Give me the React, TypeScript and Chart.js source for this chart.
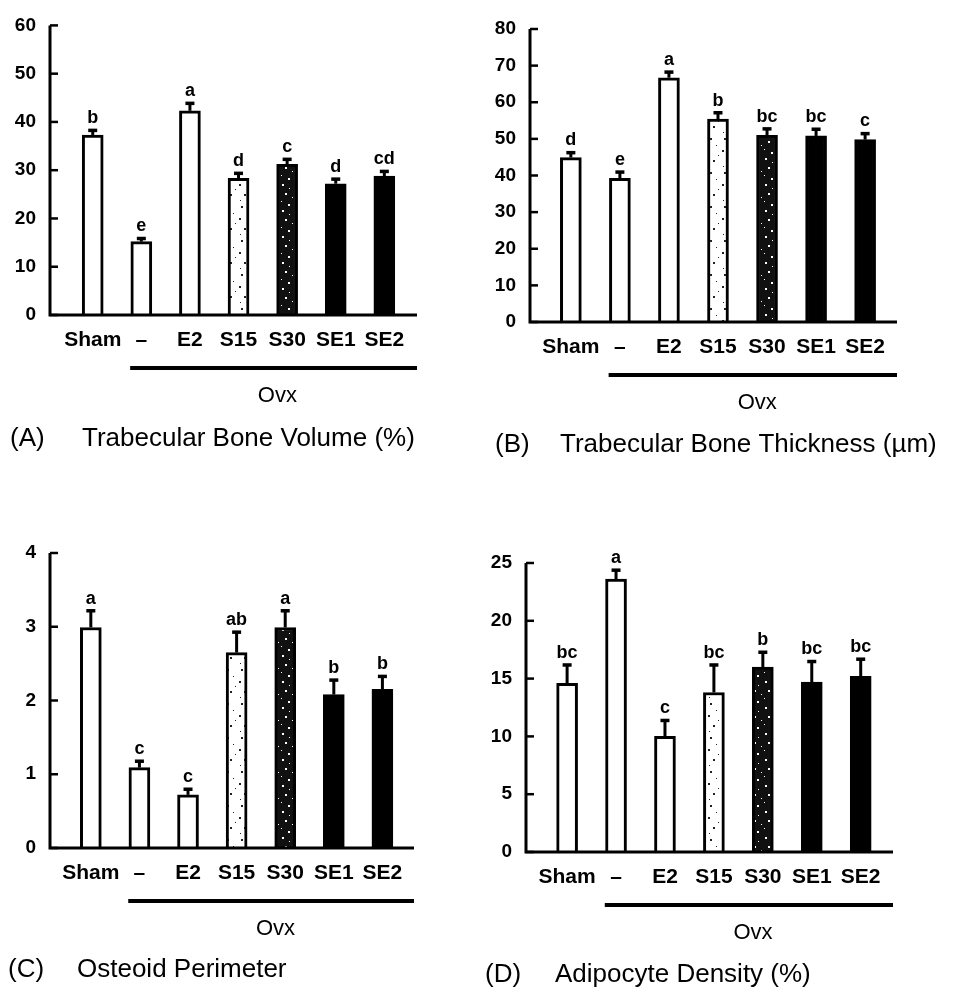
import React, { useEffect, useRef } from "react";
import { Chart, registerables } from "chart.js";

Chart.register(...registerables);

const FONT = "'Liberation Sans', Arial, Helvetica, sans-serif";

const groups = ["Sham", "–", "E2", "S15", "S30", "SE1", "SE2"];
const ovxLabel = "Ovx";

const volumeMeans = [37.3, 15.2, 42.3, 28.3, 31.2, 27.2, 28.8];
const volumeErrors = [1.0, 0.7, 1.6, 1.1, 1.1, 1.0, 1.0];
const volumeLetters = ["b", "e", "a", "d", "c", "d", "cd"];
const volumeAxis = [0, 60, 10];

const thicknessMeans = [44.9, 39.2, 66.7, 55.4, 51.0, 50.8, 49.8];
const thicknessErrors = [1.4, 1.8, 1.6, 1.8, 1.8, 1.9, 1.7];
const thicknessLetters = ["d", "e", "a", "b", "bc", "bc", "c"];
const thicknessAxis = [0, 80, 10];

const osteoidMeans = [2.99, 1.09, 0.72, 2.65, 2.99, 2.08, 2.15];
const osteoidErrors = [0.23, 0.09, 0.08, 0.28, 0.23, 0.2, 0.18];
const osteoidLetters = ["a", "c", "c", "ab", "a", "b", "b"];
const osteoidAxis = [0, 4, 1];

const adipocyteMeans = [14.6, 23.6, 10.0, 13.8, 16.0, 14.7, 15.2];
const adipocyteErrors = [1.6, 0.8, 1.4, 2.4, 1.3, 1.8, 1.5];
const adipocyteLetters = ["bc", "a", "c", "bc", "b", "bc", "bc"];
const adipocyteAxis = [0, 25, 5];

const captionTags = ["(A)", "(B)", "(C)", "(D)"];
const captionTitles = [
  "Trabecular Bone Volume (%)",
  "Trabecular Bone Thickness (µm)",
  "Osteoid Perimeter",
  "Adipocyte Density (%)",
];

// layout of each panel (positions only)
const panels = [
  { means: volumeMeans, errors: volumeErrors, letters: volumeLetters, axis: volumeAxis,
    left: 0, top: 0, padTop: 25, padRight: 66, yWidth: 50, xHeight: 182, xMin: -0.879, xMax: 6.672,
    tagX: 10, titleX: 82, capDy: 124 },
  { means: thicknessMeans, errors: thicknessErrors, letters: thicknessLetters, axis: thicknessAxis,
    left: 483, top: 0, padTop: 29, padRight: 69, yWidth: 47, xHeight: 175, xMin: -0.833, xMax: 6.65,
    tagX: 12, titleX: 77, capDy: 123 },
  { means: osteoidMeans, errors: osteoidErrors, letters: osteoidLetters, axis: osteoidAxis,
    left: 0, top: 497, padTop: 56, padRight: 69, yWidth: 50, xHeight: 146, xMin: -0.84, xMax: 6.65,
    tagX: 8, titleX: 77, capDy: 122 },
  { means: adipocyteMeans, errors: adipocyteErrors, letters: adipocyteLetters, axis: adipocyteAxis,
    left: 483, top: 497, padTop: 66, padRight: 73, yWidth: 43, xHeight: 142, xMin: -0.84, xMax: 6.66,
    tagX: 2, titleX: 72, capDy: 123 },
];

const CW = 483;
const CH = 497;

function makePattern(bg: string, dot: string, dots: number[][], w: number, h: number) {
  const c = document.createElement("canvas");
  c.width = w;
  c.height = h;
  const g = c.getContext("2d")!;
  g.fillStyle = bg;
  g.fillRect(0, 0, w, h);
  g.fillStyle = dot;
  dots.forEach(([x, y, s]) => g.fillRect(x, y, s, s));
  const p = g.createPattern(c, "repeat");
  return p || bg;
}

function Panel({ cfg, idx }: { cfg: any; idx: number }) {
  const ref = useRef<HTMLCanvasElement | null>(null);
  useEffect(() => {
    const canvas = ref.current!;
    const lightDots = makePattern("#ffffff", "#222222",
      [[3, 2, 2], [9, 9, 1], [1, 14, 2], [11, 19, 1], [6, 24, 2], [2, 30, 1]], 14, 34);
    const darkDots = makePattern("#111111", "#ffffff",
      [[2, 2, 2], [9, 6, 1], [5, 11, 2], [12, 15, 1], [1, 19, 1], [8, 22, 2]], 14, 26);
    const fills = ["#ffffff", "#ffffff", "#ffffff", lightDots, darkDots, "#000000", "#000000"];

    const [yMin, yMax, yStep] = cfg.axis;
    const means: number[] = cfg.means;
    const errors: number[] = cfg.errors;
    const letters: string[] = cfg.letters;

    const annotate = {
      id: "annotate",
      afterDatasetsDraw(chart: any) {
        const { ctx, chartArea: a, scales } = chart;
        const x = scales.x;
        const y = scales.y;
        const meta = chart.getDatasetMeta(0);
        ctx.save();
        ctx.strokeStyle = "#000";
        ctx.fillStyle = "#000";
        ctx.lineCap = "butt";
        meta.data.forEach((bar: any, i: number) => {
          const base = y.getPixelForValue(means[i]);
          const top = y.getPixelForValue(means[i] + errors[i]);
          ctx.lineWidth = 3;
          ctx.beginPath();
          ctx.moveTo(bar.x, base);
          ctx.lineTo(bar.x, top);
          ctx.stroke();
          ctx.fillRect(bar.x - 4.5, top - 1.5, 9, 3.5);
          ctx.font = `bold 18px ${FONT}`;
          ctx.textAlign = "center";
          ctx.textBaseline = "alphabetic";
          ctx.fillText(letters[i], bar.x, top - 7);
        });
        // axes
        ctx.lineWidth = 3;
        ctx.beginPath();
        ctx.moveTo(a.left, a.top);
        ctx.lineTo(a.left, a.bottom);
        ctx.lineTo(a.right, a.bottom);
        ctx.stroke();
        ctx.lineWidth = 2.5;
        y.ticks.forEach((t: any) => {
          const py = y.getPixelForValue(t.value);
          ctx.beginPath();
          ctx.moveTo(a.left, py);
          ctx.lineTo(a.left + 8, py);
          ctx.stroke();
        });
        // Ovx bracket
        const lineY = a.bottom + 53;
        ctx.lineWidth = 4;
        ctx.beginPath();
        ctx.moveTo(x.getPixelForValue(0.77), lineY);
        ctx.lineTo(a.right, lineY);
        ctx.stroke();
        ctx.font = `22px ${FONT}`;
        ctx.textAlign = "center";
        ctx.textBaseline = "middle";
        ctx.fillText(ovxLabel, x.getPixelForValue(3.8), a.bottom + 81);
        // caption
        ctx.font = `26px ${FONT}`;
        ctx.textAlign = "left";
        ctx.fillText(captionTags[idx], cfg.tagX, a.bottom + cfg.capDy);
        ctx.fillText(captionTitles[idx], cfg.titleX, a.bottom + cfg.capDy);
        ctx.restore();
      },
    };

    const chart = new Chart(canvas, {
      type: "bar",
      data: {
        datasets: [
          {
            data: means.map((v, i) => ({ x: i, y: v })),
            backgroundColor: fills,
            borderColor: "#000",
            borderWidth: 3,
            barThickness: 21,
          } as any,
        ],
      },
      options: {
        responsive: false,
        animation: false,
        layout: { padding: { left: 0, top: cfg.padTop, right: cfg.padRight, bottom: 0 } },
        plugins: { legend: { display: false }, tooltip: { enabled: false }, title: { display: false } },
        scales: {
          x: {
            type: "linear",
            offset: false,
            min: cfg.xMin,
            max: cfg.xMax,
            grid: { display: false, drawTicks: false, offset: false },
            border: { display: false },
            ticks: {
              stepSize: 1,
              includeBounds: false,
              autoSkip: false,
              maxRotation: 0,
              padding: 13,
              color: "#000",
              font: { family: FONT, size: 21, weight: "bold" },
              callback: (v: any) => (Number.isInteger(v) ? groups[v] ?? "" : ""),
            },
            afterFit: (s: any) => {
              s.height = cfg.xHeight;
            },
          },
          y: {
            type: "linear",
            min: yMin,
            max: yMax,
            grid: { display: false, drawTicks: false },
            border: { display: false },
            ticks: {
              stepSize: yStep,
              padding: 14,
              color: "#000",
              font: { family: FONT, size: 19, weight: "bold" },
            },
            afterFit: (s: any) => {
              s.width = cfg.yWidth;
            },
          },
        },
      } as any,
      plugins: [annotate],
    });
    return () => chart.destroy();
  }, [cfg, idx]);

  return (
    <canvas
      ref={ref}
      width={CW}
      height={CH}
      style={{ position: "absolute", left: cfg.left, top: cfg.top, width: CW, height: CH }}
    />
  );
}

export default function App() {
  return (
    <div style={{ position: "absolute", left: 0, top: 0, width: 966, height: 994, background: "#fff" }}>
      {panels.map((p, i) => (
        <Panel key={i} cfg={p} idx={i} />
      ))}
    </div>
  );
}
